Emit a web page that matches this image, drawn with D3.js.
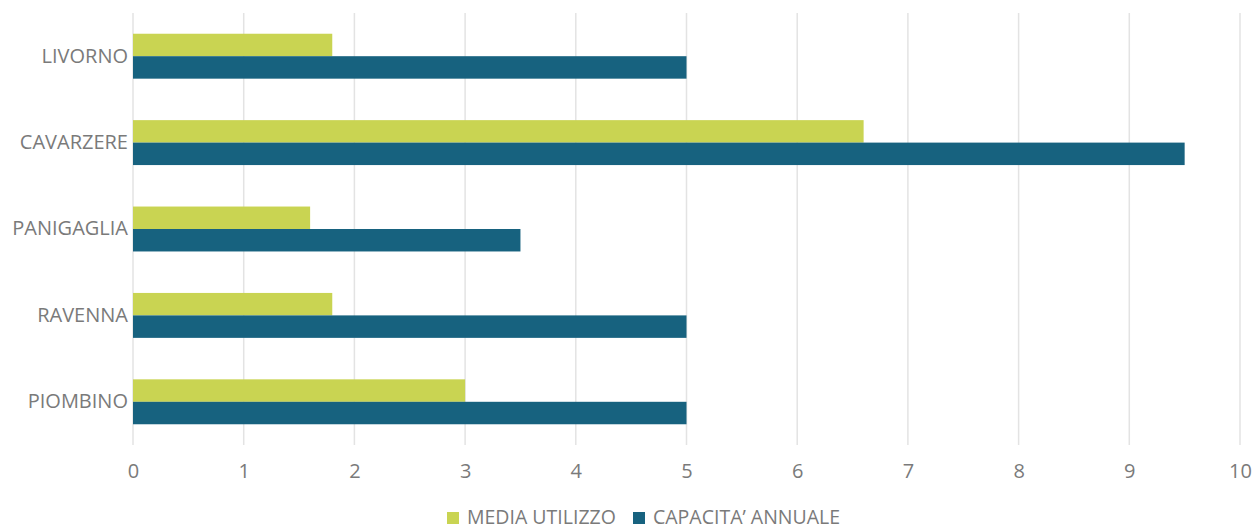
<!DOCTYPE html>
<html>
<head>
<meta charset="utf-8">
<style>
  body { margin: 0; background: #fff; }
  text { font-family: "Open Sans", Lato, sans-serif; fill: #7a7a7a; }
</style>
</head>
<body>
<script src="https://cdnjs.cloudflare.com/ajax/libs/d3/7.8.5/d3.min.js"></script>
<script>
var categories = ["LIVORNO", "CAVARZERE", "PANIGAGLIA", "RAVENNA", "PIOMBINO"];
var mediaUtilizzo = [1.8, 6.6, 1.6, 1.8, 3.0];
var capacitaAnnuale = [5, 9.5, 3.5, 5, 5];
var seriesNames = ["MEDIA UTILIZZO", "CAPACITA\u2019 ANNUALE"];
var colors = ["#c9d452", "#17627f"];
var ticks = [0, 1, 2, 3, 4, 5, 6, 7, 8, 9, 10];

var w = 1255, h = 529;
var mLeft = 133, mRight = 1240, mTop = 13, mBottom = 445;

var svg = d3.select("body").append("svg")
    .attr("width", w)
    .attr("height", h);

var x = d3.scaleLinear().domain([0, 10]).range([mLeft, mRight]);
var y = d3.scaleBand().domain(categories).range([mTop, mBottom])
    .paddingInner(0.48).paddingOuter(0.24);
var sub = d3.scaleBand().domain([0, 1]).range([0, y.bandwidth()]);

// gridlines
svg.append("g").selectAll("line")
    .data(ticks)
    .enter().append("line")
    .attr("x1", function(d) { return x(d); })
    .attr("x2", function(d) { return x(d); })
    .attr("y1", mTop)
    .attr("y2", mBottom)
    .attr("stroke", "#e3e3e3")
    .attr("stroke-width", 1.5);

// bars
var rows = categories.map(function(c, i) {
    return { cat: c, vals: [mediaUtilizzo[i], capacitaAnnuale[i]] };
});

var grp = svg.append("g").selectAll("g")
    .data(rows)
    .enter().append("g")
    .attr("transform", function(d) { return "translate(0," + y(d.cat) + ")"; });

grp.selectAll("rect")
    .data(function(d) { return d.vals; })
    .enter().append("rect")
    .attr("x", x(0))
    .attr("y", function(d, i) { return sub(i); })
    .attr("width", function(d) { return x(d) - x(0); })
    .attr("height", sub.bandwidth())
    .attr("fill", function(d, i) { return colors[i]; });

// x axis labels
var xAxis = d3.axisBottom(x).tickValues(ticks).tickSize(0).tickPadding(19);
var gx = svg.append("g")
    .attr("transform", "translate(0," + mBottom + ")")
    .call(xAxis);
gx.select(".domain").remove();
gx.selectAll("text")
    .attr("font-size", "20px")
    .attr("font-family", null)
    .attr("fill", null);

// y axis labels
var yAxis = d3.axisLeft(y).tickSize(0).tickPadding(5);
var gy = svg.append("g")
    .attr("transform", "translate(" + mLeft + ",0)")
    .call(yAxis);
gy.select(".domain").remove();
gy.selectAll("text")
    .attr("font-size", "20px")
    .attr("font-family", null)
    .attr("fill", null);

// legend
var legend = svg.append("g").attr("transform", "translate(447,517)");
var lx = [0, 186];
seriesNames.forEach(function(name, i) {
    var g = legend.append("g").attr("transform", "translate(" + lx[i] + ",0)");
    g.append("rect")
        .attr("x", 0).attr("y", -5)
        .attr("width", 12).attr("height", 12)
        .attr("fill", colors[i]);
    g.append("text")
        .attr("x", 20).attr("y", 0)
        .attr("dy", "0.35em")
        .attr("font-size", "19.5px")
        .text(name);
});
</script>
</body>
</html>
